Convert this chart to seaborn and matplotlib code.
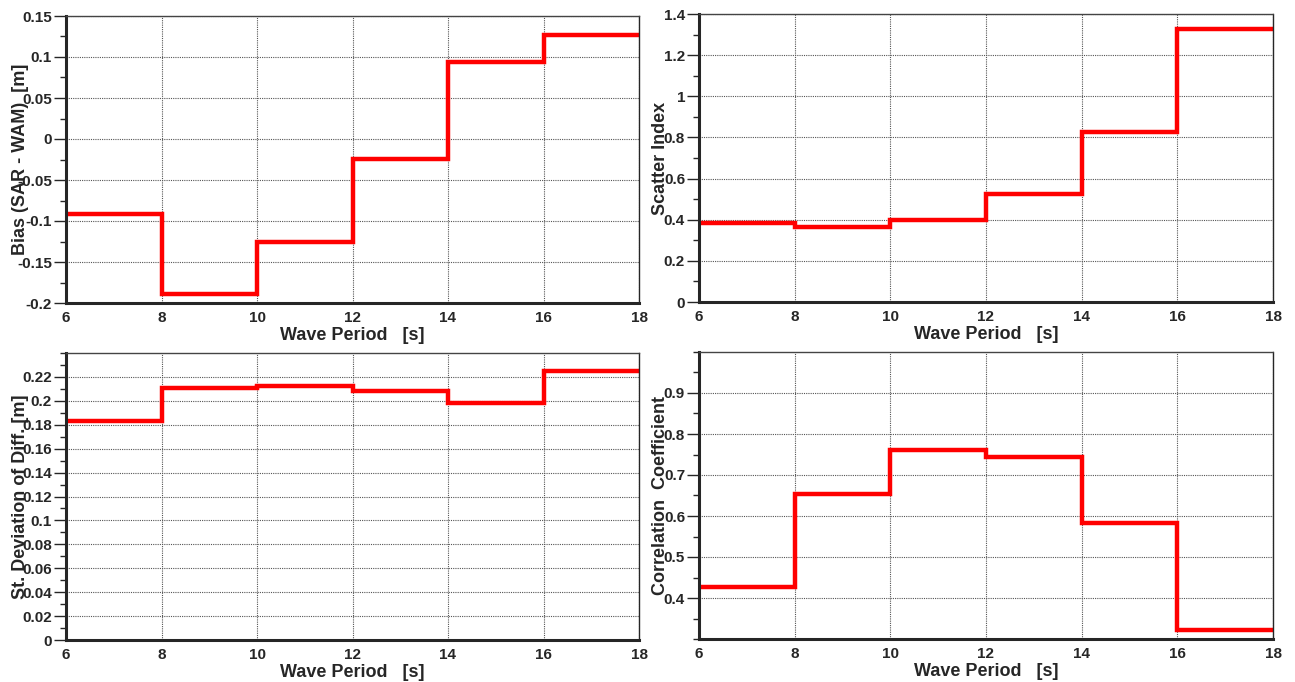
import matplotlib
matplotlib.use("Agg")
import matplotlib.pyplot as plt
import matplotlib.ticker as mticker
import seaborn as sns

# wave period bins (start of each 2 s bin) and upper edge
period_bins = [6, 8, 10, 12, 14, 16]
period_end = 18

# statistics per bin
bias = [-0.092, -0.189, -0.125, -0.024, 0.094, 0.127]
scatter_index = [0.382, 0.366, 0.399, 0.527, 0.828, 1.325]
std_diff = [0.183, 0.211, 0.212, 0.208, 0.198, 0.225]
correlation = [0.426, 0.654, 0.762, 0.743, 0.582, 0.321]

sns.set_style("ticks")
plt.rcParams["font.family"] = ["Liberation Sans", "DejaVu Sans"]
plt.rcParams["font.weight"] = "bold"

fig = plt.figure(figsize=(12.95, 6.82), dpi=100)

W, H = 1295, 682


def box(left, top, right, bottom):
    return [left / W, 1 - bottom / H, (right - left) / W, (bottom - top) / H]


panels = [
    (box(66, 16, 639, 303), bias, "Bias (SAR - WAM)  [m]",
     (-0.2, 0.15), [-0.2, -0.15, -0.1, -0.05, 0, 0.05, 0.1, 0.15], 0.025, -0.064),
    (box(699, 14, 1273, 302), scatter_index, "Scatter Index",
     (0, 1.4), [0, 0.2, 0.4, 0.6, 0.8, 1.0, 1.2, 1.4], 0.1, -0.052),
    (box(66, 353, 639, 640), std_diff, "St. Deviation of Diff. [m]",
     (0, 0.24), [0, 0.02, 0.04, 0.06, 0.08, 0.1, 0.12, 0.14, 0.16, 0.18, 0.2, 0.22], 0.01, -0.064),
    (box(699, 352, 1273, 639), correlation, "Correlation  Coefficient",
     (0.3, 1.0), [0.4, 0.5, 0.6, 0.7, 0.8, 0.9], 0.05, -0.052),
]

for pos, vals, ylab, ylim, yticks, minor, labx in panels:
    ax = fig.add_axes(pos)
    x = period_bins + [period_end]
    y = vals + [vals[-1]]
    sns.lineplot(x=x, y=y, ax=ax, estimator=None, color="#ff0000",
                 linewidth=3.2, drawstyle="steps-post", solid_joinstyle="miter")
    ax.set_xlim(6, 18)
    ax.set_ylim(*ylim)
    ax.set_xticks(range(6, 19, 2))
    ax.yaxis.set_major_locator(mticker.FixedLocator(yticks))
    ax.yaxis.set_minor_locator(mticker.MultipleLocator(minor))
    ax.yaxis.set_major_formatter(mticker.FuncFormatter(lambda v, p: f"{v:g}"))
    ax.grid(True, which="major", linestyle=(0, (1, 1)), color="#555555", linewidth=0.8)
    ax.tick_params(axis="x", length=0, pad=6, labelsize=11)
    ax.tick_params(axis="y", which="major", length=9, width=1, direction="out", labelsize=11, pad=1)
    ax.tick_params(axis="y", which="minor", length=4, width=1, direction="out")
    for lab in ax.get_xticklabels() + ax.get_yticklabels():
        lab.set_fontweight("bold")
    ax.spines["left"].set_linewidth(2.2)
    ax.spines["bottom"].set_linewidth(2.2)
    ax.spines["right"].set_linewidth(1.0)
    ax.spines["top"].set_linewidth(1.0)
    ax.spines["top"].set_linestyle((0, (1, 1)))
    ax.spines["top"].set_color("#444444")
    ax.set_xlabel("Wave Period   [s]", fontsize=13, fontweight="bold", labelpad=1)
    ax.set_ylabel(ylab, fontsize=13, fontweight="bold")
    ax.yaxis.set_label_coords(labx, 0.5)

fig.savefig("out.png", dpi=100)
